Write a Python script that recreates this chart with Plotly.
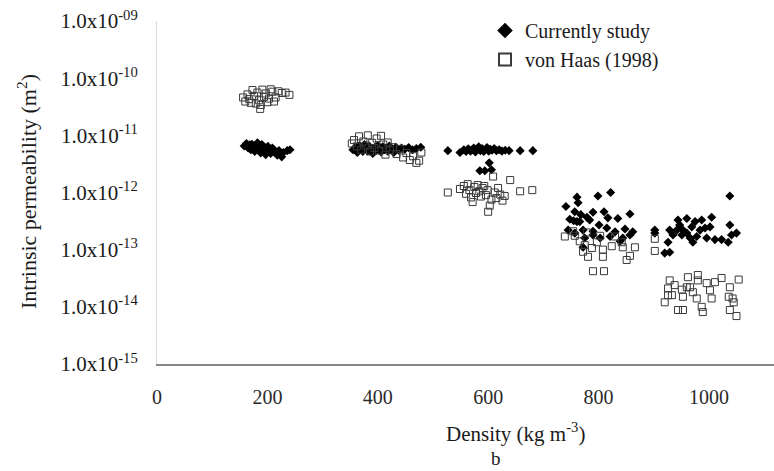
import plotly.graph_objects as go

# Current study: density (kg m-3) and intrinsic permeability (m2)
cur_density_200 = [158, 162, 165, 168, 170, 172, 175, 177, 180, 182, 184, 186, 188, 190, 192,
                   195, 197, 199, 201, 204, 206, 209, 212, 215, 218, 221, 226, 229, 236, 241]
cur_perm_200 = [6.5e-12, 7.2e-12, 6.0e-12, 6.8e-12, 5.6e-12, 7.0e-12, 6.3e-12, 5.2e-12, 6.6e-12, 7.4e-12,
                5.8e-12, 6.1e-12, 4.9e-12, 6.9e-12, 5.5e-12, 6.2e-12, 4.6e-12, 5.9e-12, 6.4e-12, 5.3e-12,
                4.8e-12, 6.0e-12, 5.6e-12, 5.1e-12, 4.5e-12, 5.4e-12, 4.2e-12, 5.0e-12, 5.4e-12, 5.6e-12]

cur_density_400 = [355, 360, 363, 367, 370, 373, 376, 379, 382, 385, 388, 391, 394, 397, 400, 403,
                   406, 409, 412, 415, 418, 421, 425, 429, 433, 438, 443, 449, 456, 463, 470, 478]
cur_perm_400 = [5.6e-12, 6.2e-12, 5.0e-12, 6.6e-12, 5.8e-12, 5.2e-12, 6.9e-12, 6.0e-12, 5.4e-12, 6.4e-12,
                5.7e-12, 4.8e-12, 6.1e-12, 5.5e-12, 6.7e-12, 5.9e-12, 5.1e-12, 6.3e-12, 5.6e-12, 6.0e-12,
                5.3e-12, 6.5e-12, 5.8e-12, 5.0e-12, 6.2e-12, 5.5e-12, 6.0e-12, 5.7e-12, 6.1e-12, 5.6e-12,
                5.9e-12, 6.2e-12]

cur_density_600 = [527, 549, 556, 560, 564, 568, 571, 574, 577, 580, 583, 586, 589, 592, 595, 598,
                   601, 604, 607, 611, 615, 620, 625, 631, 638, 658, 681, 602, 585, 594, 606]
cur_perm_600 = [5.4e-12, 5.0e-12, 5.6e-12, 5.2e-12, 5.8e-12, 5.3e-12, 5.6e-12, 6.0e-12, 5.1e-12, 5.7e-12,
                6.3e-12, 5.4e-12, 5.9e-12, 5.2e-12, 5.6e-12, 6.1e-12, 5.3e-12, 5.7e-12, 5.5e-12, 5.9e-12,
                5.4e-12, 5.6e-12, 5.3e-12, 5.5e-12, 5.4e-12, 5.4e-12, 5.4e-12, 3.3e-12, 2.4e-12, 2.4e-12,
                2.5e-12]

cur_density_800 = [741, 761, 763, 799, 822, 757, 768, 779, 790, 810, 857, 835, 817, 784, 766, 748,
                   755, 761, 801, 772, 790, 815, 830, 848, 862, 857, 775, 790, 803, 821, 772, 844,
                   757, 745, 839]
cur_perm_800 = [5.7e-13, 8.3e-13, 6.6e-13, 8.7e-13, 1.0e-12, 4.6e-13, 4.1e-13, 3.7e-13, 4.5e-13, 4.6e-13,
                4.2e-13, 3.5e-13, 3.6e-13, 3.3e-13, 3.1e-13, 3.4e-13, 3.2e-13, 3.1e-13, 2.7e-13, 2.2e-13,
                2.1e-13, 2.4e-13, 2.05e-13, 2.3e-13, 2.05e-13, 1.8e-13, 1.6e-13, 1.8e-13, 1.6e-13, 1.7e-13,
                1.1e-13, 1.6e-13, 1.95e-13, 2.2e-13, 1.4e-13]

cur_density_1000 = [1038, 902, 902, 920, 929, 926, 929, 935, 944, 947, 953, 960, 966, 971, 978, 975,
                    987, 993, 1005, 1002, 996, 1011, 1023, 1038, 1041, 1050, 1035, 960, 969, 951, 984, 942]
cur_perm_1000 = [8.7e-13, 2.2e-13, 1.95e-13, 8.7e-14, 9.0e-14, 1.35e-13, 2.2e-13, 1.8e-13, 3.3e-13, 2.7e-13,
                 2.2e-13, 1.95e-13, 1.6e-13, 1.35e-13, 1.7e-13, 3.1e-13, 3.3e-13, 2.4e-13, 3.7e-13, 2.5e-13,
                 1.6e-13, 1.5e-13, 1.5e-13, 2.7e-13, 1.8e-13, 1.95e-13, 1.35e-13, 3.5e-13, 2.5e-13, 1.8e-13,
                 2.2e-13, 2.2e-13]

# von Haas (1998)
haas_density_200 = [156, 160, 164, 167, 170, 173, 176, 179, 182, 185, 187, 188, 191, 194, 197, 200,
                    203, 206, 209, 212, 215, 220, 226, 233, 240]
haas_perm_200 = [4.6e-11, 3.9e-11, 5.2e-11, 4.3e-11, 3.7e-11, 6.2e-11, 4.9e-11, 3.6e-11, 5.6e-11, 4.1e-11,
                 2.9e-11, 3.4e-11, 6.3e-11, 4.7e-11, 5.4e-11, 3.8e-11, 4.4e-11, 6.4e-11, 5.8e-11, 3.9e-11,
                 4.6e-11, 5.9e-11, 5.5e-11, 5.6e-11, 5.1e-11]

haas_density_400 = [353, 357, 362, 366, 370, 374, 378, 382, 386, 390, 394, 398, 402, 406, 410, 414,
                    418, 422, 428, 434, 440, 446, 452, 458, 464, 470, 475, 479]
haas_perm_400 = [7.2e-12, 8.3e-12, 6.4e-12, 9.6e-12, 5.6e-12, 7.8e-12, 6.6e-12, 1.0e-11, 5.2e-12, 7.4e-12,
                 6.0e-12, 8.8e-12, 5.4e-12, 9.8e-12, 6.9e-12, 4.6e-12, 7.5e-12, 5.5e-12, 6.2e-12, 4.7e-12,
                 5.8e-12, 4.1e-12, 4.9e-12, 3.7e-12, 4.3e-12, 3.3e-12, 3.6e-12, 5.0e-12]

haas_density_600 = [527, 549, 556, 560, 563, 566, 569, 572, 575, 578, 581, 584, 587, 590, 593, 596,
                    599, 600, 603, 606, 609, 612, 615, 618, 622, 626, 630, 640, 658, 680]
haas_perm_600 = [1.0e-12, 1.15e-12, 1.3e-12, 9.5e-13, 1.4e-12, 1.1e-12, 8.2e-13, 6.8e-13, 1.25e-12, 9.8e-13,
                 1.35e-12, 1.05e-12, 8.5e-13, 1.2e-12, 1.3e-12, 9.0e-13, 1.1e-12, 4.6e-13, 5.9e-13, 7.5e-13,
                 1.9e-12, 1.0e-12, 8.0e-13, 1.2e-12, 9.2e-13, 7.2e-13, 8.7e-13, 1.65e-12, 1.05e-12, 1.1e-12]

haas_density_800 = [739, 754, 757, 766, 772, 781, 788, 797, 808, 808, 824, 842, 844, 857, 851, 866,
                    790, 810, 775, 803, 779, 830]
haas_perm_800 = [1.7e-13, 2.1e-13, 1.75e-13, 1.4e-13, 9.2e-14, 7.5e-14, 1.07e-13, 1.35e-13, 1.0e-13, 7.5e-14,
                 1.15e-13, 1.35e-13, 1.1e-13, 7.8e-14, 6.6e-14, 1.1e-13, 4.2e-14, 4.2e-14, 1.2e-13, 1.75e-13,
                 2.0e-13, 1.7e-13]

haas_density_1000 = [902, 902, 929, 926, 926, 920, 944, 953, 938, 951, 953, 962, 966, 971, 980, 980,
                     978, 987, 989, 996, 1002, 1005, 1011, 1023, 1038, 1036, 1043, 1038, 1050, 1054,
                     1045, 933, 960]
haas_perm_1000 = [1.55e-13, 9.5e-14, 2.9e-14, 2.1e-14, 1.6e-14, 1.2e-14, 8.8e-15, 8.8e-15, 2.4e-14, 2.0e-14,
                  1.5e-14, 3.3e-14, 2.2e-14, 1.8e-14, 3.6e-14, 2.9e-14, 1.4e-14, 1.0e-14, 8.1e-15, 2.6e-14,
                  1.95e-14, 1.4e-14, 2.7e-14, 3.2e-14, 2.2e-14, 1.5e-14, 1.4e-14, 8.8e-15, 6.9e-15, 3.0e-14,
                  1.2e-14, 1.6e-14, 2.2e-14]

cur_density = cur_density_200 + cur_density_400 + cur_density_600 + cur_density_800 + cur_density_1000
cur_perm = cur_perm_200 + cur_perm_400 + cur_perm_600 + cur_perm_800 + cur_perm_1000
haas_density = haas_density_200 + haas_density_400 + haas_density_600 + haas_density_800 + haas_density_1000
haas_perm = haas_perm_200 + haas_perm_400 + haas_perm_600 + haas_perm_800 + haas_perm_1000

x_ticks = [0, 200, 400, 600, 800, 1000]
y_ticks = [1e-15, 1e-14, 1e-13, 1e-12, 1e-11, 1e-10, 1e-9]
y_tick_text = ["1.0x10<sup>-15</sup>", "1.0x10<sup>-14</sup>", "1.0x10<sup>-13</sup>",
               "1.0x10<sup>-12</sup>", "1.0x10<sup>-11</sup>", "1.0x10<sup>-10</sup>",
               "1.0x10<sup>-09</sup>"]

FONT = "Liberation Serif, Times New Roman, serif"
W, H = 774, 471
L, R, T, B = 157, 0, 21, 107
PW, PH = W - L - R, H - T - B

fig = go.Figure()
fig.add_trace(go.Scatter(
    x=cur_density, y=cur_perm, mode="markers", name="Currently study",
    marker=dict(symbol="diamond", size=7, color="black", line=dict(width=0)),
))
fig.add_trace(go.Scatter(
    x=haas_density, y=haas_perm, mode="markers", name="von Haas (1998)",
    marker=dict(symbol="square-open", size=7, color="#3a3a3a", line=dict(width=1)),
))

fig.update_layout(
    width=W, height=H,
    margin=dict(l=L, r=R, t=T, b=B, pad=0),
    paper_bgcolor="white", plot_bgcolor="white",
    font=dict(family=FONT, size=20, color="#1a1a1a"),
    showlegend=True,
    legend=dict(
        x=(485 - L) / PW, y=1 + 10 / PH, xanchor="left", yanchor="top",
        bgcolor="rgba(0,0,0,0)", font=dict(size=20, color="#1a1a1a"),
        itemsizing="constant", tracegroupgap=0,
    ),
    xaxis=dict(
        range=[0, 1118], tickvals=x_ticks, ticktext=[str(v) for v in x_ticks],
        showgrid=False, zeroline=False, showline=True, linecolor="#868686", linewidth=1.5,
        ticks="", ticklabelstandoff=14, tickfont=dict(size=20, color="#2a2a2a"),
    ),
    yaxis=dict(
        type="log", range=[-15, -9], tickvals=y_ticks, ticktext=y_tick_text,
        showgrid=False, zeroline=False, showline=True, linecolor="#d9d9d9", linewidth=1,
        ticks="", ticklabelstandoff=14, tickfont=dict(size=21, color="#1a1a1a"),
    ),
    annotations=[
        dict(text="Density (kg m<sup>-3</sup>)", xref="paper", yref="paper",
             x=(515 - L) / PW, y=-(432 - 364) / PH,
             xanchor="center", yanchor="middle", showarrow=False,
             font=dict(size=21, color="#1a1a1a")),
        dict(text="b", xref="paper", yref="paper",
             x=(496 - L) / PW, y=-(458 - 364) / PH,
             xanchor="center", yanchor="middle", showarrow=False,
             font=dict(size=19, color="#1a1a1a")),
        dict(text="Intrinsic permeability (m<sup>2</sup>)", xref="paper", yref="paper",
             x=(27 - L) / PW, y=(364 - 192) / PH, textangle=-90,
             xanchor="center", yanchor="middle", showarrow=False,
             font=dict(size=22, color="#1a1a1a")),
    ],
)

fig.write_html("out.html")
